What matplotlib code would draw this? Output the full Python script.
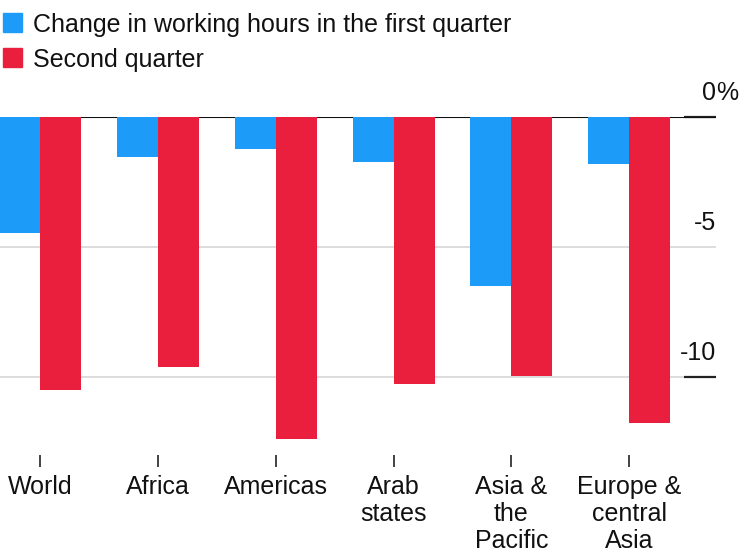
import matplotlib
matplotlib.use("Agg")
import matplotlib.pyplot as plt
import matplotlib.transforms as mtransforms
from matplotlib.patches import Rectangle
import numpy as np

plt.rcParams['font.family'] = ['Liberation Sans', 'DejaVu Sans']

categories = ["World", "Africa", "Americas", "Arab\nstates", "Asia &\nthe\nPacific", "Europe &\ncentral\nAsia"]
first_quarter = [-4.45, -1.53, -1.23, -1.74, -6.5, -1.82]
second_quarter = [-10.5, -9.6, -12.4, -10.28, -9.97, -11.78]
legend_labels = ["Change in working hours in the first quarter", "Second quarter"]
ytick_values = [0, -5, -10]
ytick_labels = ["0", "-5", "-10"]

BLUE = "#1d9bf9"
RED = "#ea1f3e"

W, H = 739, 557
fig = plt.figure(figsize=(W / 100, H / 100), dpi=100)

ax_left, ax_right = 0 / W, 716 / W
ax_top, ax_bottom = 117, 455
ax = fig.add_axes([ax_left, 1 - ax_bottom / H, ax_right - ax_left, (ax_bottom - ax_top) / H])

x = np.arange(len(categories))
w = 0.348
ax.bar(x - w, first_quarter, width=w, align='edge', color=BLUE, zorder=3, linewidth=0)
ax.bar(x, second_quarter, width=w, align='edge', color=RED, zorder=3, linewidth=0)

ax.set_xlim(-0.344, 5.739)
ax.set_ylim(-13.0, 0)

for s in ax.spines.values():
    s.set_visible(False)

# grid lines
for v in ytick_values:
    if v == 0:
        ax.axhline(v, color="#111111", lw=1.5, zorder=2)
    else:
        ax.axhline(v, color="#d9d9d9", lw=1.3, zorder=1)

# y ticks on right, inward
ax.yaxis.tick_right()
ax.set_yticks(ytick_values)
ax.tick_params(axis='y', direction='in', length=23, width=1.6, color='#222222',
               labelright=False, labelleft=False, right=True, left=False)
for t, v in zip(ax.yaxis.get_major_ticks(), ytick_values):
    if v == -5:
        t.tick2line.set_visible(False)
    t.tick2line.set_zorder(4)

# y tick labels above lines, right aligned at axes right edge
trans = mtransforms.blended_transform_factory(ax.transAxes, ax.transData)
trans_up = mtransforms.offset_copy(trans, fig=fig, x=0, y=17 * 72 / 100, units='points')
for v, lab in zip(ytick_values, ytick_labels):
    ax.text(1.0, v, lab, transform=trans_up, ha='right', va='baseline', fontsize=18, color='#111111')
    if v == 0:
        ax.text(1.0, v, "%", transform=trans_up, ha='left', va='baseline', fontsize=18, color='#111111')

# x ticks
ax.set_xticks(x)
ax.set_xticklabels(categories, fontsize=18, linespacing=1.17, color='#111111')
ax.tick_params(axis='x', direction='out', length=12 * 0.72, width=1.2, color='#222222', pad=5.5)

# legend (manual)
leg_y = [32, 67]
colors = [BLUE, RED]
for yb, c, lab in zip(leg_y, colors, legend_labels):
    fig.patches.append(Rectangle((3 / W, 1 - yb / H), 19 / W, 19 / H, transform=fig.transFigure,
                                 color=c, zorder=5))
    fig.text(33 / W, 1 - yb / H, lab, ha='left', va='baseline', fontsize=18, color='#111111')

fig.savefig("out.png", dpi=100)
